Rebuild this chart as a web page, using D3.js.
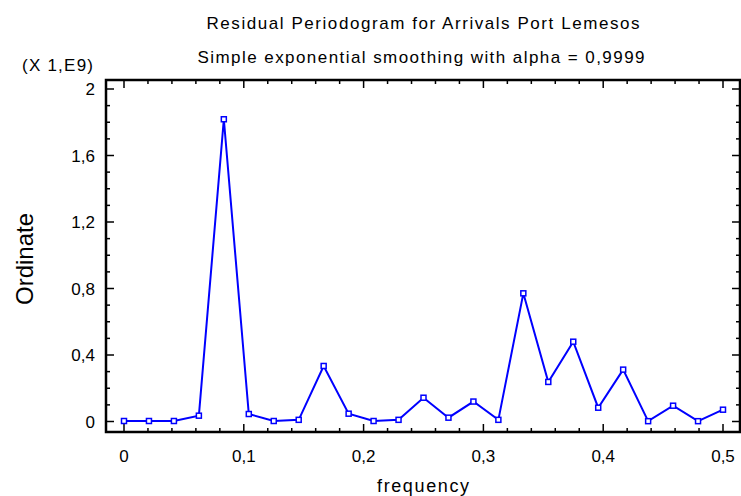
<!DOCTYPE html>
<html>
<head>
<meta charset="utf-8">
<script src="https://cdn.jsdelivr.net/npm/d3@7"></script>
<style>
  body { margin: 0; background: #fff; }
  text { font-family: Arial, "Liberation Sans", sans-serif; fill: #000; }
</style>
</head>
<body>
<main></main>
<script>
// periodogram ordinates (x 1E9) at frequencies k/48
const frequency = d3.range(25).map(k => k / 48);
const ordinate = [
  0.003, 0.003, 0.003, 0.035, 1.818, 0.045, 0.003, 0.010, 0.334, 0.047,
  0.003, 0.010, 0.143, 0.023, 0.120, 0.010, 0.771, 0.238, 0.480, 0.083,
  0.312, 0.002, 0.095, 0.002, 0.071
];
const xTicks = [0, 0.1, 0.2, 0.3, 0.4, 0.5];
const yTicks = [0, 0.4, 0.8, 1.2, 1.6, 2];

const w = 741;
const h = 496;
const frameL = 106, frameR = 740, frameT = 80, frameB = 432;

const x = d3.scaleLinear().domain([0, 0.5]).range([124, 723]);
const y = d3.scaleLinear().domain([0, 2]).range([421.5, 89]);
const fmt = d => String(+d.toFixed(1)).replace(".", ",");

const svg = d3.select("main")
  .append("svg")
  .attr("width", w)
  .attr("height", h);

// titles
svg.append("text")
  .attr("x", 423).attr("y", 29)
  .attr("text-anchor", "middle")
  .attr("font-size", 17)
  .attr("textLength", 433)
  .text("Residual Periodogram for Arrivals Port Lemesos");
svg.append("text")
  .attr("x", 421).attr("y", 63)
  .attr("text-anchor", "middle")
  .attr("font-size", 17)
  .attr("textLength", 447)
  .text("Simple exponential smoothing with alpha = 0,9999");
svg.append("text")
  .attr("x", 22).attr("y", 71)
  .attr("font-size", 17)
  .attr("textLength", 71)
  .text("(X 1,E9)");

// ticks (inward on all four sides)
const minorX = d3.range(0, 0.5001, 0.02);
const minorY = d3.range(0, 2.0001, 0.1);
const ticks = svg.append("g").attr("stroke", "#000").attr("stroke-width", 1.5);
const isMajorX = v => Math.abs(v * 10 - Math.round(v * 10)) < 1e-6;
const isMajorY = v => Math.abs(v / 0.4 - Math.round(v / 0.4)) < 1e-6;

ticks.selectAll(".xb").data(minorX).enter().append("line")
  .attr("x1", d => x(d)).attr("x2", d => x(d))
  .attr("y1", frameB).attr("y2", d => frameB - (isMajorX(d) ? 8 : 4));
ticks.selectAll(".xt").data(minorX).enter().append("line")
  .attr("x1", d => x(d)).attr("x2", d => x(d))
  .attr("y1", frameT).attr("y2", d => frameT + (isMajorX(d) ? 8 : 4));
ticks.selectAll(".yl").data(minorY).enter().append("line")
  .attr("y1", d => y(d)).attr("y2", d => y(d))
  .attr("x1", frameL).attr("x2", d => frameL + (isMajorY(d) ? 8 : 4));
ticks.selectAll(".yr").data(minorY).enter().append("line")
  .attr("y1", d => y(d)).attr("y2", d => y(d))
  .attr("x1", frameR).attr("x2", d => frameR - (isMajorY(d) ? 8 : 4));

// frame
svg.append("rect")
  .attr("x", frameL).attr("y", frameT)
  .attr("width", frameR - frameL).attr("height", frameB - frameT)
  .attr("fill", "none").attr("stroke", "#000").attr("stroke-width", 2.5);

// tick labels
svg.selectAll(".xlab").data(xTicks).enter().append("text")
  .attr("x", d => x(d)).attr("y", 462)
  .attr("text-anchor", "middle").attr("font-size", 17)
  .text(d => fmt(d));
svg.selectAll(".ylab").data(yTicks).enter().append("text")
  .attr("x", 95).attr("y", d => y(d) + 6)
  .attr("text-anchor", "end").attr("font-size", 17)
  .text(d => fmt(d));

// axis titles
svg.append("text")
  .attr("x", 423).attr("y", 492)
  .attr("text-anchor", "middle").attr("font-size", 18)
  .attr("textLength", 92)
  .text("frequency");
svg.append("text")
  .attr("transform", "translate(33,259) rotate(-90)")
  .attr("text-anchor", "middle").attr("font-size", 24)
  .text("Ordinate");

// series
const pts = frequency.map((f, i) => [f, ordinate[i]]);
svg.append("path")
  .datum(pts)
  .attr("fill", "none")
  .attr("stroke", "#0000ff")
  .attr("stroke-width", 2)
  .attr("d", d3.line().x(d => x(d[0])).y(d => y(d[1])));
svg.selectAll(".pt").data(pts).enter().append("rect")
  .attr("x", d => x(d[0]) - 2.5).attr("y", d => y(d[1]) - 2.5)
  .attr("width", 5).attr("height", 5)
  .attr("fill", "#fff").attr("stroke", "#0000ff").attr("stroke-width", 1.5);
</script>
</body>
</html>
